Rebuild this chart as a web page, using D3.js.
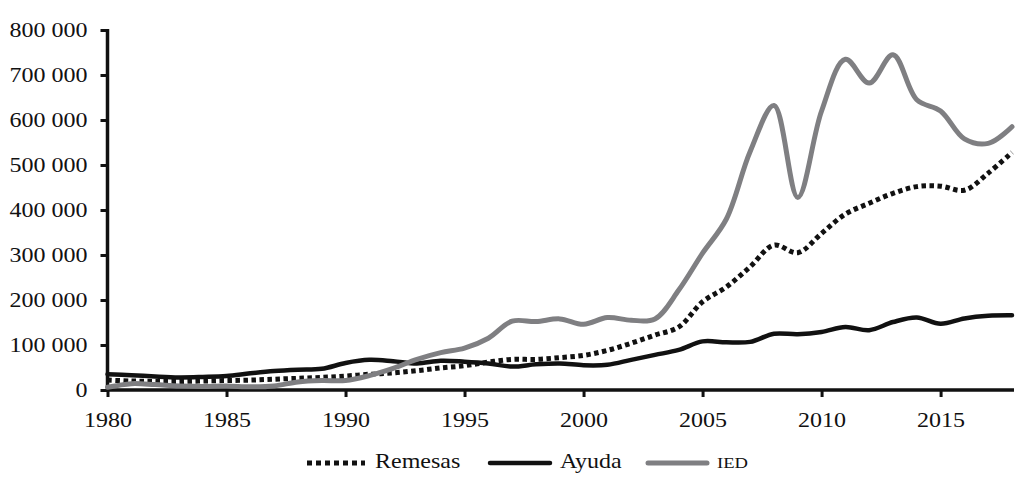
<!DOCTYPE html>
<html>
<head>
<meta charset="utf-8">
<script src="https://cdn.jsdelivr.net/npm/d3@7"></script>
<style>
  body { margin: 0; background: #fff; }
</style>
</head>
<body>
<div id="chart"></div>
<script>
var svgWidth = 1027;
var svgHeight = 487;

// data
var years = d3.range(1980, 2019);
var remesas = [22000, 20000, 19000, 19000, 20000, 21000, 22000, 24000, 26000, 28000,
  31000, 35000, 38000, 43000, 49000, 54000, 62000, 68000, 68000, 72000,
  77000, 88000, 104000, 122000, 140000, 196000, 229000, 274000, 322000, 305000,
  348000, 391000, 415000, 437000, 452000, 453000, 444000, 482000, 528000];
var ayuda = [35000, 33000, 30000, 28000, 29000, 31000, 37000, 42000, 45000, 47000,
  60000, 67000, 64000, 59000, 65000, 63000, 59000, 52000, 57000, 59000,
  55000, 56000, 67000, 78000, 89000, 108000, 106000, 107000, 125000, 124000,
  129000, 140000, 133000, 151000, 161000, 147000, 159000, 165000, 166000];
var ied = [6000, 14000, 12000, 9000, 8000, 9000, 7000, 9000, 18000, 21000,
  21000, 32000, 48000, 68000, 83000, 93000, 115000, 153000, 152000, 158000,
  146000, 161000, 155000, 158000, 222000, 304000, 380000, 530000, 632000, 428000,
  620000, 735000, 682000, 745000, 645000, 620000, 558000, 548000, 585000];
var seriesNames = ["Remesas", "Ayuda", "IED"];
var xTicks = d3.range(1980, 2019, 5);
var yTicks = d3.range(0, 800001, 100000);

var black = "#111";
var gray = "#7f7f82";
var font = "'Liberation Serif', 'Times New Roman', serif";
var stretch = "scale(1.2,1)";

var svg = d3.select("#chart").append("svg")
  .attr("width", svgWidth)
  .attr("height", svgHeight);

var x = d3.scaleLinear().domain([1980, 2018]).range([107.5, 1012]);
var y = d3.scaleLinear().domain([0, 800000]).range([390, 30]);

var fmt = function (d) {
  return d3.format(",")(d).replace(/,/g, " ");
};

// y axis
var yAxis = svg.append("g")
  .attr("transform", `translate(${x(1980)},0)`)
  .call(d3.axisLeft(y).tickValues(yTicks).tickSize(7).tickFormat(fmt));
yAxis.select(".domain").attr("stroke", black).attr("stroke-width", 3.5)
  .attr("d", `M0,${y(800000) - 1}V${y(0)}`);
yAxis.selectAll(".tick line").attr("stroke", black).attr("stroke-width", 3);
yAxis.selectAll(".tick text")
  .attr("x", -20 / 1.2)
  .attr("dy", "0.33em")
  .attr("transform", stretch)
  .attr("fill", black)
  .style("font-family", font)
  .style("font-size", "20px");

// x axis
var xAxis = svg.append("g")
  .attr("transform", `translate(0,${y(0)})`)
  .call(d3.axisBottom(x).tickValues(xTicks).tickSize(7).tickFormat(d3.format("d")));
xAxis.select(".domain").attr("stroke", black).attr("stroke-width", 3.5)
  .attr("d", `M${x(1980) - 1.5},0H1014`);
xAxis.selectAll(".tick line").attr("stroke", black).attr("stroke-width", 3);
xAxis.selectAll(".tick text")
  .attr("y", 37)
  .attr("dy", 0)
  .attr("transform", stretch)
  .attr("fill", black)
  .style("font-family", font)
  .style("font-size", "20px");

// lines
var line = d3.line()
  .x(function (d, i) { return x(years[i]); })
  .y(function (d) { return y(d); })
  .curve(d3.curveCatmullRom.alpha(0.5));

svg.append("path")
  .datum(remesas)
  .attr("d", line)
  .attr("fill", "none")
  .attr("stroke", black)
  .attr("stroke-width", 5)
  .attr("stroke-dasharray", "4.5,3.5");

svg.append("path")
  .datum(ayuda)
  .attr("d", line)
  .attr("fill", "none")
  .attr("stroke", black)
  .attr("stroke-width", 4.5)
  .attr("stroke-linecap", "round");

svg.append("path")
  .datum(ied)
  .attr("d", line)
  .attr("fill", "none")
  .attr("stroke", gray)
  .attr("stroke-width", 5)
  .attr("stroke-linecap", "round");

// legend
var legend = [
  { x0: 307, x1: 365, color: black, dash: "5,4", width: 5, size: 20, text: seriesNames[0] },
  { x0: 490, x1: 550, color: black, dash: null, width: 4.5, size: 20, text: seriesNames[1] },
  { x0: 648, x1: 707, color: gray, dash: null, width: 5, size: 15.5, text: seriesNames[2] }
];
var legY = 463;
var legG = svg.append("g");
legend.forEach(function (d) {
  legG.append("line")
    .attr("x1", d.x0).attr("x2", d.x1)
    .attr("y1", legY).attr("y2", legY)
    .attr("stroke", d.color)
    .attr("stroke-width", d.width)
    .attr("stroke-linecap", d.dash ? "butt" : "round")
    .attr("stroke-dasharray", d.dash);
  legG.append("text")
    .attr("x", (d.x1 + 10) / 1.2)
    .attr("y", 468.5)
    .attr("transform", stretch)
    .attr("fill", black)
    .style("font-family", font)
    .style("font-size", d.size + "px")
    .text(d.text);
});
</script>
</body>
</html>
